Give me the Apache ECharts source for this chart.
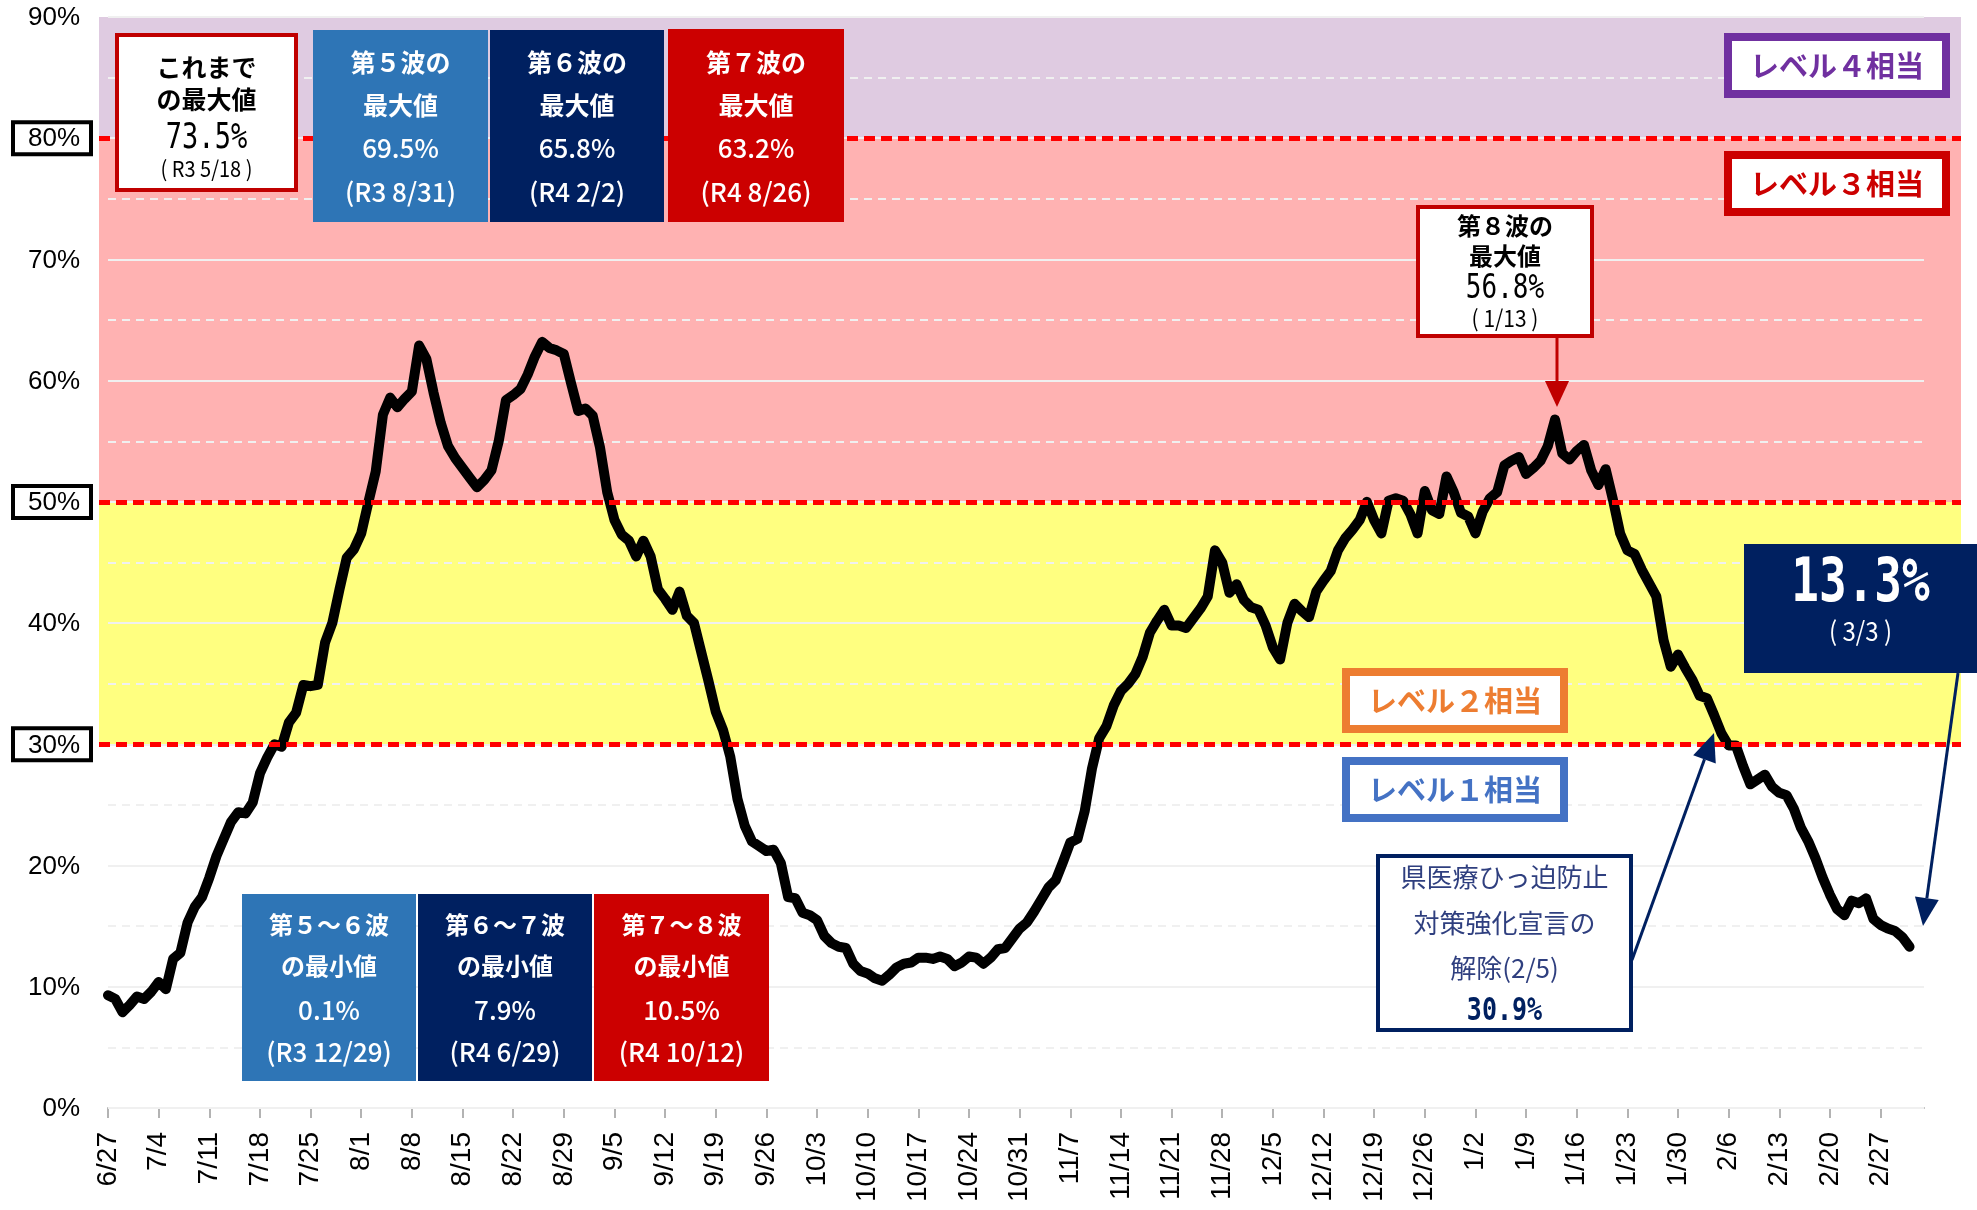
<!DOCTYPE html>
<html>
<head>
<meta charset="utf-8">
<script src="https://cdn.jsdelivr.net/npm/echarts@6.0.0/dist/echarts.min.js"></script>
<style>
  html, body { margin: 0; padding: 0; background: #fff; }
  #chart { width: 1977px; height: 1210px; }
</style>
</head>
<body>
<div id="chart"></div>
<script>
// 日付ラベル（6/27〜3/5）
const startDay = Date.UTC(2022, 5, 27);
const dayLabels = [];
for (let i = 0; i < 252; i++) {
  const d = new Date(startDay + i * 86400000);
  dayLabels.push((d.getUTCMonth() + 1) + '/' + d.getUTCDate());
}

// 病床使用率（%） 6/27〜3/3
const rates = [
  9.3, 9.0, 7.9, 8.5, 9.2, 9.0, 9.6, 10.4, 9.8, 12.3,
  12.8, 15.3, 16.6, 17.4, 19.0, 20.8, 22.2, 23.6, 24.4, 24.3,
  25.2, 27.6, 28.9, 30.0, 29.8, 31.8, 32.6, 34.9, 34.8, 34.9,
  38.4, 40.0, 42.8, 45.4, 46.1, 47.4, 50.0, 52.5, 57.2, 58.6,
  57.8, 58.5, 59.1, 62.9, 61.8, 59.0, 56.5, 54.6, 53.6, 52.8,
  52.0, 51.2, 51.8, 52.6, 55.0, 58.4, 58.8, 59.3, 60.5, 62.0,
  63.2, 62.7, 62.5, 62.2, 59.8, 57.5, 57.7, 57.1, 54.5, 50.8,
  48.5, 47.3, 46.8, 45.5, 46.8, 45.5, 42.8, 42.0, 41.1, 42.6,
  40.6, 40.0, 37.6, 35.2, 32.7, 31.2, 29.0, 25.5, 23.3, 22.0,
  21.6, 21.2, 21.3, 20.2, 17.4, 17.3, 16.1, 15.9, 15.5, 14.2,
  13.6, 13.3, 13.2, 11.9, 11.3, 11.1, 10.7, 10.5, 11.0, 11.6,
  11.9, 12.0, 12.4, 12.4, 12.3, 12.5, 12.3, 11.7, 12.0, 12.5,
  12.4, 11.9, 12.4, 13.1, 13.2, 14.0, 14.8, 15.3, 16.2, 17.2,
  18.2, 18.8, 20.3, 21.9, 22.2, 24.5, 28.0, 30.5, 31.5, 33.2,
  34.4, 35.0, 35.8, 37.2, 39.2, 40.2, 41.1, 39.8, 39.8, 39.6,
  40.4, 41.2, 42.2, 46.0, 45.0, 42.5, 43.2, 41.9, 41.3, 41.1,
  39.8, 38.0, 37.0, 40.0, 41.6, 41.0, 40.5, 42.6, 43.5, 44.3,
  46.0, 47.0, 47.7, 48.5, 50.0, 48.5, 47.4, 50.1, 50.3, 50.1,
  49.0, 47.4, 50.9, 49.3, 49.0, 52.1, 50.8, 49.1, 48.8, 47.4,
  49.2, 50.3, 50.8, 53.0, 53.4, 53.7, 52.3, 52.8, 53.4, 54.6,
  56.8, 54.0, 53.5, 54.2, 54.7, 52.6, 51.4, 52.7, 50.2, 47.4,
  46.0, 45.7, 44.4, 43.3, 42.2, 38.6, 36.4, 37.4, 36.3, 35.3,
  34.0, 33.8, 32.4, 30.9, 29.9, 29.9, 28.2, 26.7, 27.1, 27.5,
  26.5, 26.0, 25.8, 24.7, 23.1, 22.0, 20.6, 19.0, 17.6, 16.4,
  15.9, 17.1, 16.9, 17.3, 15.6, 15.1, 14.8, 14.6, 14.1, 13.3
];

// レベル区分（%）
const levelEdges = [30, 50, 80, 90];
const thresholds = [30, 50, 80];
const bandColors = ['#ffff80', '#ffb2b2', '#dfcbe1'];

const JP = '"Noto Sans CJK JP"';
const MONO = '"DejaVu Sans Mono", "Noto Sans CJK JP"';
const TOP = 100;

// 注記の箱（座標は外枠）
function box(x, y, w, h, fill, stroke, lw, lines) {
  const inset = stroke ? lw / 2 : 0;
  const children = [{
    type: 'rect', z: TOP,
    shape: { x: inset, y: inset, width: w - 2 * inset, height: h - 2 * inset },
    style: { fill: fill, stroke: stroke || null, lineWidth: lw }
  }];
  lines.forEach(function (l) {
    children.push({
      type: 'text', z: TOP + 1, x: w / 2, y: l.y - y, scaleY: l.sy || 1,
      style: { text: l.text, fill: l.color, font: l.font, align: 'center', verticalAlign: 'middle' }
    });
  });
  return { type: 'group', x: x, y: y, children: children };
}

function arrow(x1, y1, x2, y2, color, lw, hl, hw) {
  const a = Math.atan2(y2 - y1, x2 - x1);
  const bx = x2 - hl * Math.cos(a), by = y2 - hl * Math.sin(a);
  const px = -Math.sin(a) * hw / 2, py = Math.cos(a) * hw / 2;
  return [
    { type: 'line', z: TOP, shape: { x1: x1, y1: y1, x2: bx, y2: by }, style: { stroke: color, lineWidth: lw } },
    { type: 'polygon', z: TOP, shape: { points: [[x2, y2], [bx + px, by + py], [bx - px, by - py]] }, style: { fill: color } }
  ];
}

function colorBox(x, y, w, h, fill, lines, head) {
  const ys = head ? [62, 105, 148, 192] : [925, 966, 1010, 1052];
  const bold = 'bold ' + (head ? 25 : 24) + 'px ' + JP;
  const num = '500 26px ' + JP;
  return box(x, y, w, h, fill, null, 0, [
    { text: lines[0], y: ys[0], color: '#fff', font: bold },
    { text: lines[1], y: ys[1], color: '#fff', font: bold },
    { text: lines[2], y: ys[2], color: '#fff', font: num },
    { text: lines[3], y: ys[3], color: '#fff', font: num }
  ]);
}

function levelBox(x, y, text, color) {
  return box(x, y, 226, 65, '#fff', color, 8, [
    { text: text, y: y + 33, color: color, font: 'bold 29px ' + JP }
  ]);
}

const graphics = [
  box(115, 33, 183, 159, '#fff', '#c00000', 4, [
    { text: 'これまで', y: 67, color: '#000', font: 'bold 25px ' + JP },
    { text: 'の最大値', y: 99, color: '#000', font: 'bold 25px ' + JP },
    { text: '73.5%', y: 139, color: '#000', font: '27px ' + MONO, sy: 1.3 },
    { text: '( R3 5/18 )', y: 169, color: '#000', font: '20px ' + JP, sy: 1.1 }
  ]),
  colorBox(313, 30, 175, 192, '#2e75b6', ['第５波の', '最大値', '69.5%', '(R3 8/31)'], true),
  colorBox(490, 30, 174, 192, '#002060', ['第６波の', '最大値', '65.8%', '(R4 2/2)'], true),
  colorBox(668, 29, 176, 193, '#cc0000', ['第７波の', '最大値', '63.2%', '(R4 8/26)'], true),
  colorBox(242, 894, 174, 187, '#2e75b6', ['第５～６波', 'の最小値', '0.1%', '(R3 12/29)'], false),
  colorBox(418, 894, 174, 187, '#002060', ['第６～７波', 'の最小値', '7.9%', '(R4 6/29)'], false),
  colorBox(594, 894, 175, 187, '#cc0000', ['第７～８波', 'の最小値', '10.5%', '(R4 10/12)'], false),
  box(1416, 205, 178, 133, '#fff', '#c00000', 4, [
    { text: '第８波の', y: 226, color: '#000', font: 'bold 24px ' + JP },
    { text: '最大値', y: 256, color: '#000', font: 'bold 24px ' + JP },
    { text: '56.8%', y: 289, color: '#000', font: '26px ' + MONO, sy: 1.3 },
    { text: '( 1/13 )', y: 318, color: '#000', font: '21px ' + JP, sy: 1.1 }
  ]),
  levelBox(1724, 33, 'レベル４相当', '#7030a0'),
  levelBox(1724, 151, 'レベル３相当', '#cc0000'),
  levelBox(1342, 668, 'レベル２相当', '#ed7d31'),
  levelBox(1342, 757, 'レベル１相当', '#4472c4'),
  box(1376, 854, 257, 178, '#fff', '#002060', 4, [
    { text: '県医療ひっ迫防止', y: 877, color: '#2f3f7f', font: '26px ' + JP },
    { text: '対策強化宣言の', y: 923, color: '#2f3f7f', font: '26px ' + JP },
    { text: '解除(2/5)', y: 968, color: '#2f3f7f', font: '26px ' + JP },
    { text: '30.9%', y: 1012, color: '#002060', font: 'bold 25px ' + MONO, sy: 1.3 }
  ]),
  box(1744, 544, 233, 129, '#002060', null, 0, [
    { text: '13.3%', y: 585, color: '#fff', font: 'bold 46px ' + MONO, sy: 1.3 },
    { text: '( 3/3 )', y: 631, color: '#fff', font: '24px ' + JP, sy: 1.1 }
  ])
].concat(
  arrow(1557, 338, 1557, 407, '#c00000', 3, 26, 24),
  arrow(1632, 960, 1714, 733, '#002060', 3, 28, 24),
  arrow(1958, 673, 1923, 926, '#002060', 3, 28, 24)
);

const bandAreas = [];
for (let i = 0; i < bandColors.length; i++) {
  bandAreas.push([
    { yAxis: levelEdges[i], itemStyle: { color: bandColors[i] } },
    { yAxis: levelEdges[i + 1] }
  ]);
}

const chart = echarts.init(document.getElementById('chart'));
chart.setOption({
  animation: false,
  backgroundColor: '#fff',
  grid: [
    { left: 99, right: 16, top: 17, bottom: 102, outerBoundsMode: 'none' },
    { left: 108, right: 53, top: 17, bottom: 102, outerBoundsMode: 'none' }
  ],
  xAxis: [
    { gridIndex: 0, type: 'value', min: 0, max: 1, show: false },
    {
      gridIndex: 1, type: 'category', data: dayLabels, boundaryGap: false,
      axisLine: { lineStyle: { color: '#b3b3b3', width: 2 } },
      axisTick: { interval: 6, length: 10, lineStyle: { color: '#b3b3b3', width: 2 } },
      axisLabel: {
        interval: 6, rotate: 90, margin: 24, color: '#000',
        fontSize: 28, fontFamily: 'Liberation Sans'
      }
    }
  ],
  yAxis: [
    { gridIndex: 0, type: 'value', min: 0, max: 90, show: false },
    {
      gridIndex: 1, type: 'value', min: 0, max: 90, interval: 10, z: 2,
      axisLine: { show: false },
      axisTick: { show: false },
      splitLine: { lineStyle: { color: '#f0f0f0', width: 2 } },
      minorTick: { show: false, splitNumber: 2 },
      minorSplitLine: { show: true, lineStyle: { color: '#f0f0f0', width: 2, type: [8, 6] } },
      axisLabel: {
        margin: 19,
        formatter: function (v) {
          return thresholds.indexOf(v) >= 0 ? '{b|' + v + '%}' : '{n|' + v + '%}';
        },
        rich: {
          n: {
            fontSize: 26, fontFamily: 'Liberation Sans', color: '#000', width: 56, align: 'right',
            lineHeight: 26, padding: [2, 9, 0, 9], borderWidth: 4, borderColor: 'rgba(0,0,0,0)'
          },
          b: {
            fontSize: 26, fontFamily: 'Liberation Sans', color: '#000', width: 56, align: 'right',
            lineHeight: 26, padding: [2, 9, 0, 9], borderWidth: 4, borderColor: '#000', backgroundColor: '#fff'
          }
        }
      }
    }
  ],
  series: [
    {
      type: 'line', xAxisIndex: 0, yAxisIndex: 0, silent: true,
      data: [[0, 0], [1, 0]], showSymbol: false, lineStyle: { opacity: 0 },
      markArea: { silent: true, data: bandAreas },
      markLine: {
        silent: true, symbol: 'none', label: { show: false },
        lineStyle: { color: '#ff0000', width: 5, type: [11, 6] },
        data: thresholds.map(function (t) { return { yAxis: t }; })
      }
    },
    {
      type: 'line', xAxisIndex: 1, yAxisIndex: 1, z: 3,
      data: rates, showSymbol: false, symbol: 'none',
      lineStyle: { color: '#000', width: 10, cap: 'round', join: 'round' }
    }
  ],
  graphic: graphics
});
</script>
</body>
</html>
